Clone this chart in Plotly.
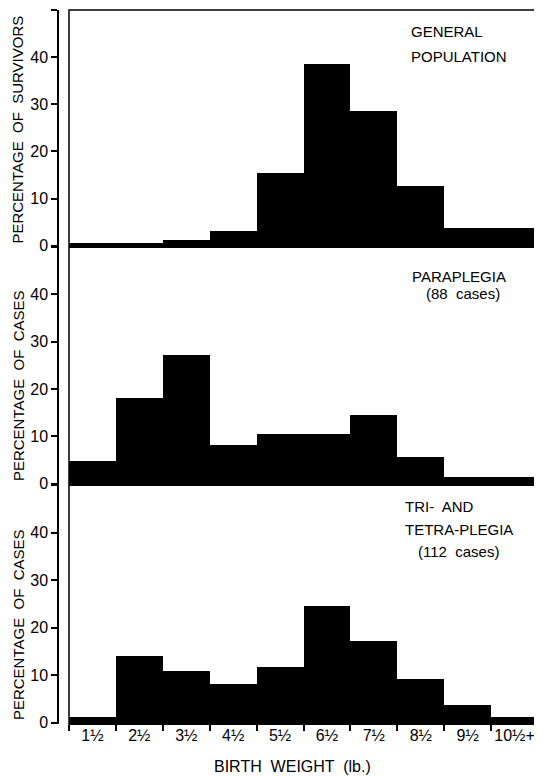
import plotly.graph_objects as go

# ---------------- data ----------------
weights = ["1½", "2½", "3½", "4½", "5½", "6½", "7½", "8½", "9½", "10½+"]
general_population = [0.6, 0.6, 1.3, 3.2, 15.4, 38.5, 28.5, 12.6, 3.7, 3.7]
paraplegia = [4.8, 18.2, 27.2, 8.2, 10.5, 10.5, 14.5, 5.6, 1.5, 1.5]
tri_tetraplegia = [1.2, 14.0, 10.8, 8.1, 11.7, 24.6, 17.2, 9.2, 3.8, 1.2]

y_tick_vals = [0, 10, 20, 30, 40, 50]
y_tick_text = ["0", "10", "20", "30", "40", ""]
y_titles = ["PERCENTAGE  OF  SURVIVORS", "PERCENTAGE  OF  CASES", "PERCENTAGE  OF  CASES"]
x_title = "BIRTH  WEIGHT  (lb.)"

# ---------------- layout geometry ----------------
OFF = 8                      # page body margin in the browser
W, H = 542 - OFF, 776 - OFF
AX_X, BOX_L, BOX_R = 59, 69, 538     # reference pixel positions
TOP, BOT = 10, 724
ML = AX_X - OFF
MT = TOP - OFF
MB = H - (BOT - OFF)
MR = W - (BOX_R - OFF)
PW = W - ML - MR
PH = H - MT - MB
FONT = "Liberation Sans, Arial, sans-serif"

def px_x(x):
    return (x - OFF - ML) / PW

def px_y(y):
    return (H - MB - (y - OFF)) / PH

bin_w = (BOX_R - BOX_L) / len(weights)
x_range = [-0.5 - (BOX_L - AX_X) / bin_w, len(weights) - 0.5]

domains = [[px_y(247), 1.0], [px_y(485), px_y(247)], [0.0, px_y(485)]]
series = [general_population, paraplegia, tri_tetraplegia]

fig = go.Figure()
for i, vals in enumerate(series):
    n = i + 1
    fig.add_trace(go.Bar(
        x=weights, y=vals,
        xaxis=f"x{n}", yaxis=f"y{n}",
        marker=dict(color="black", line=dict(width=0)),
        width=1.0, showlegend=False,
    ))

layout = dict(
    width=W, height=H,
    margin=dict(l=ML, r=MR, t=MT, b=MB, autoexpand=False),
    paper_bgcolor="white", plot_bgcolor="white",
    bargap=0,
    font=dict(family=FONT, color="black", size=16),
    showlegend=False,
)

for i in range(3):
    n = i + 1
    bottom = (n == 3)
    xa = dict(
        type="category",
        domain=[0, 1],
        anchor=f"y{n}",
        range=x_range,
        showline=False,
        showgrid=False, zeroline=False,
        ticks="outside" if bottom else "",
        tickson="boundaries",
        ticklen=6, tickwidth=1.5, tickcolor="black",
        showticklabels=bottom,
        tickangle=0,
        automargin=False,
        tickfont=dict(size=16, family=FONT),
    )
    if n != 3:
        xa["matches"] = "x3"
    layout[f"xaxis{n}"] = xa
    layout[f"yaxis{n}"] = dict(
        domain=domains[i],
        anchor=f"x{n}",
        range=[-0.25, 50],
        tickvals=y_tick_vals, ticktext=y_tick_text,
        ticks="outside", ticklen=6, tickwidth=1.5, tickcolor="black",
        showline=True, linecolor="black", linewidth=1.5,
        showgrid=False, zeroline=False,
        automargin=False,
        tickfont=dict(size=16, family=FONT),
    )

fig.update_layout(**layout)

x_box0 = px_x(BOX_L)
# frame around the panels
fig.add_shape(type="rect", xref="paper", yref="paper",
              x0=x_box0, x1=1, y0=0, y1=1,
              line=dict(color="black", width=1.5), fillcolor="rgba(0,0,0,0)")
# panel baselines
for d in domains:
    fig.add_shape(type="line", xref="paper", yref="paper",
                  x0=x_box0, x1=1, y0=d[0], y1=d[0],
                  line=dict(color="black", width=2))

annotations = []
# y-axis titles (bottom-aligned to each panel)
for i, t in enumerate(y_titles):
    annotations.append(dict(
        text=t, xref="paper", yref="paper",
        x=px_x(18), y=domains[i][0] + 0.002,
        xanchor="center", yanchor="bottom",
        textangle=-90, showarrow=False,
        font=dict(size=15, family=FONT),
    ))

# panel labels: (text, x px, y px, anchor)
panel_lines = [
    ("GENERAL", 409, 31, "left"),
    ("POPULATION", 409, 56.5, "left"),
    ("PARAPLEGIA", 459, 276, "center"),
    ("(88  cases)", 463, 293, "center"),
    ("TRI-  AND", 403, 506, "left"),
    ("TETRA-PLEGIA", 403, 529, "left"),
    ("(112  cases)", 458.5, 551, "center"),
]
for t, x, y, a in panel_lines:
    annotations.append(dict(
        text=t, xref="paper", yref="paper",
        x=px_x(x), y=px_y(y), xanchor=a, yanchor="middle",
        showarrow=False, font=dict(size=15, family=FONT),
    ))

annotations.append(dict(
    text=x_title, xref="paper", yref="paper",
    x=px_x(292), y=px_y(766), xanchor="center", yanchor="middle",
    showarrow=False, font=dict(size=16, family=FONT),
))

fig.update_layout(annotations=annotations)

fig.write_html("out.html")
